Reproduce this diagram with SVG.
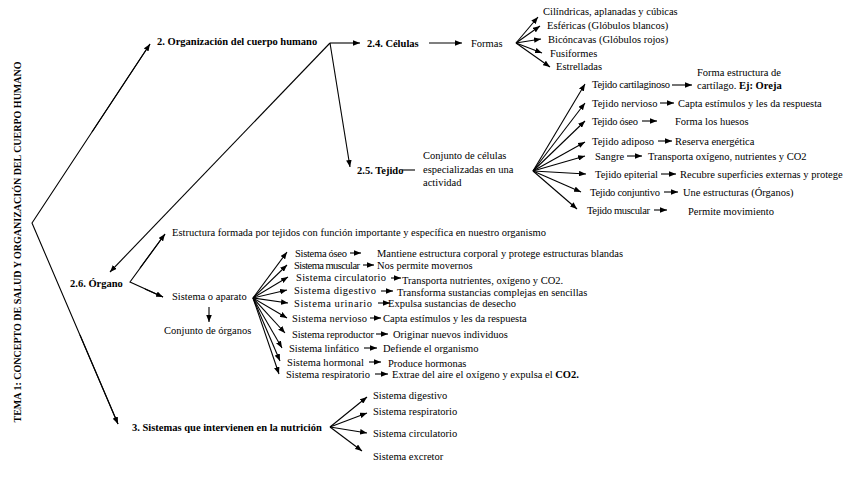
<svg xmlns="http://www.w3.org/2000/svg" width="848" height="477" viewBox="0 0 848 477">
<defs>
<marker id="ah" viewBox="0 0 10 8" refX="10" refY="4" markerWidth="7" markerHeight="5.6" markerUnits="userSpaceOnUse" orient="auto"><path d="M0,0 L10,4 L0,8 z" fill="#000"/></marker>
<style>
text{font-family:"Liberation Serif","Times New Roman",serif;fill:#000}
.t{font-size:10.5px}
.b{font-size:10.5px;font-weight:bold}
.title{font-size:10px;font-weight:bold}
.c{stroke:#000;stroke-width:1.1;fill:none}
.a{stroke:#000;stroke-width:1.1;fill:none;marker-end:url(#ah)}
</style>
</defs>
<rect width="848" height="477" fill="#fff"/>

<g id="connectors">
<polyline class="c" points="150,44 32,223 118,424"/>
<line class="a" x1="92" y1="132" x2="150" y2="44"/>
<line class="a" x1="80" y1="335" x2="118" y2="424"/>
<line class="a" x1="330" y1="43" x2="360" y2="43"/>
<line class="a" x1="330" y1="43" x2="110" y2="272"/>
<line class="a" x1="330" y1="43" x2="350" y2="167"/>
<line class="a" x1="429" y1="43" x2="462" y2="43"/>
<line class="a" x1="516" y1="43" x2="538" y2="17"/>
<line class="a" x1="516" y1="43" x2="540" y2="26"/>
<line class="a" x1="516" y1="43" x2="541" y2="39"/>
<line class="a" x1="516" y1="43" x2="542" y2="53"/>
<line class="a" x1="516" y1="43" x2="550" y2="67"/>
<line class="c" x1="402" y1="170" x2="415" y2="170"/>
<line class="a" x1="533" y1="171" x2="585" y2="84"/>
<line class="a" x1="533" y1="171" x2="585" y2="103"/>
<line class="a" x1="533" y1="171" x2="585" y2="121"/>
<line class="a" x1="533" y1="171" x2="585" y2="142"/>
<line class="a" x1="533" y1="171" x2="585" y2="156"/>
<line class="a" x1="533" y1="171" x2="586" y2="174"/>
<line class="a" x1="533" y1="171" x2="581" y2="192"/>
<line class="a" x1="533" y1="171" x2="577" y2="209"/>
<line class="a" x1="672" y1="85" x2="692" y2="85"/>
<line class="a" x1="660" y1="103" x2="674" y2="103"/>
<line class="a" x1="642" y1="121" x2="657" y2="121"/>
<line class="a" x1="658" y1="141" x2="672" y2="141"/>
<line class="a" x1="627" y1="156" x2="642" y2="156"/>
<line class="a" x1="661" y1="174" x2="676" y2="174"/>
<line class="a" x1="664" y1="192" x2="678" y2="192"/>
<line class="a" x1="654" y1="210" x2="667" y2="210"/>
<polyline class="c" points="165,234 130,282 163,297"/>
<line class="a" x1="140" y1="268" x2="165" y2="234"/>
<line class="a" x1="145" y1="289" x2="163" y2="297"/>
<line class="a" x1="209" y1="307" x2="209" y2="322"/>
<line class="a" x1="253" y1="298" x2="287" y2="252"/>
<line class="a" x1="253" y1="298" x2="287" y2="265"/>
<line class="a" x1="253" y1="298" x2="288" y2="277"/>
<line class="a" x1="253" y1="298" x2="287" y2="290"/>
<line class="a" x1="253" y1="298" x2="288" y2="303"/>
<line class="a" x1="253" y1="298" x2="287" y2="318"/>
<line class="a" x1="253" y1="298" x2="285" y2="333"/>
<line class="a" x1="253" y1="298" x2="282" y2="348"/>
<line class="a" x1="253" y1="298" x2="280" y2="361"/>
<line class="a" x1="253" y1="298" x2="279" y2="374"/>
<line class="a" x1="350" y1="253" x2="361" y2="253"/>
<line class="a" x1="363" y1="265" x2="374" y2="265"/>
<line class="a" x1="391" y1="278" x2="401" y2="278"/>
<line class="a" x1="381" y1="291" x2="393" y2="291"/>
<line class="a" x1="378" y1="303" x2="390" y2="303"/>
<line class="a" x1="370" y1="318" x2="381" y2="318"/>
<line class="a" x1="376" y1="334" x2="388" y2="334"/>
<line class="a" x1="364" y1="348" x2="377" y2="348"/>
<line class="a" x1="369" y1="362" x2="381" y2="362"/>
<line class="a" x1="375" y1="374" x2="388" y2="374"/>
<line class="a" x1="330" y1="427" x2="367" y2="397"/>
<line class="a" x1="330" y1="427" x2="367" y2="413"/>
<line class="a" x1="330" y1="427" x2="367" y2="433"/>
<line class="a" x1="330" y1="427" x2="362" y2="451"/>
</g>

<g id="title"><text class="title" transform="translate(21,242) rotate(-90)" text-anchor="middle">TEMA 1: CONCEPTO DE SALUD Y ORGANIZACIÓN DEL CUERPO HUMANO</text></g>

<g id="organizacion"><text class="b" x="157" y="45">2. Organización del cuerpo humano</text></g>
<g id="celulas"><text class="b" x="367" y="47">2.4. Células</text></g>
<g id="formas"><text class="t" x="471" y="47">Formas</text></g>
<g id="formas-lista">
<text class="t" x="543" y="15">Cilíndricas, aplanadas y cúbicas</text>
<text class="t" x="547" y="29">Esféricas (Glóbulos blancos)</text>
<text class="t" x="548" y="43">Bicóncavas (Glóbulos rojos)</text>
<text class="t" x="550" y="57">Fusiformes</text>
<text class="t" x="556" y="70">Estrelladas</text>
</g>

<g id="tejido"><text class="b" x="357" y="174">2.5. Tejido</text></g>
<g id="tejido-def">
<text class="t" x="423" y="159">Conjunto de células</text>
<text class="t" x="423" y="173">especializadas en una</text>
<text class="t" x="423" y="186">actividad</text>
</g>
<g id="tejidos">
<text class="t" x="592" y="88" textLength="78">Tejido cartilaginoso</text>
<text class="t" x="592" y="107">Tejido nervioso</text>
<text class="t" x="592" y="125" textLength="46">Tejido óseo</text>
<text class="t" x="592" y="145">Tejido adiposo</text>
<text class="t" x="595" y="160">Sangre</text>
<text class="t" x="595" y="178" textLength="63">Tejido epiterial</text>
<text class="t" x="590" y="196" textLength="70">Tejido conjuntivo</text>
<text class="t" x="587" y="214" textLength="63">Tejido muscular</text>
</g>
<g id="tejidos-funcion">
<text class="t" x="697" y="76">Forma estructura de</text>
<text class="t" x="697" y="89">cartílago. <tspan font-weight="bold">Ej: Oreja</tspan></text>
<text class="t" x="678" y="107">Capta estímulos y les da respuesta</text>
<text class="t" x="675" y="125">Forma los huesos</text>
<text class="t" x="675" y="145">Reserva energética</text>
<text class="t" x="648" y="160">Transporta oxígeno, nutrientes y CO2</text>
<text class="t" x="680" y="178">Recubre superficies externas y protege</text>
<text class="t" x="683" y="196">Une estructuras (Órganos)</text>
<text class="t" x="688" y="215">Permite movimiento</text>
</g>

<g id="organo"><text class="b" x="70" y="287">2.6. Órgano</text></g>
<g id="organo-def"><text class="t" x="172" y="236">Estructura formada por tejidos con función importante y específica en nuestro organismo</text></g>
<g id="sistema-aparato"><text class="t" x="172" y="300">Sistema o aparato</text></g>
<g id="conjunto-organos"><text class="t" x="164" y="334">Conjunto de órganos</text></g>
<g id="sistemas">
<text class="t" x="295" y="257" textLength="52">Sistema óseo</text>
<text class="t" x="294" y="268.5" font-size="10" textLength="66">Sistema muscular</text>
<text class="t" x="296" y="280.5" font-size="10" textLength="90">Sistema circulatorio</text>
<text class="t" x="294" y="294" textLength="82">Sistema digestivo</text>
<text class="t" x="294" y="307" textLength="78">Sistema urinario</text>
<text class="t" x="292" y="322" textLength="75">Sistema nervioso</text>
<text class="t" x="292" y="338" textLength="82">Sistema reproductor</text>
<text class="t" x="289" y="352" textLength="70">Sistema linfático</text>
<text class="t" x="287" y="366" textLength="77">Sistema hormonal</text>
<text class="t" x="286" y="378" textLength="84">Sistema respiratorio</text>
</g>
<g id="sistemas-funcion">
<text class="t" x="377" y="257">Mantiene estructura corporal y protege estructuras blandas</text>
<text class="t" x="377" y="269">Nos permite movernos</text>
<text class="t" x="402" y="284">Transporta nutrientes, oxígeno y CO2.</text>
<text class="t" x="397" y="296">Transforma sustancias complejas en sencillas</text>
<text class="t" x="388" y="307">Expulsa sustancias de desecho</text>
<text class="t" x="383" y="322">Capta estímulos y les da respuesta</text>
<text class="t" x="393" y="338">Originar nuevos individuos</text>
<text class="t" x="383" y="352">Defiende el organismo</text>
<text class="t" x="388" y="367">Produce hormonas</text>
<text class="t" x="392" y="378">Extrae del aire el oxígeno y expulsa el <tspan font-weight="bold">CO2.</tspan></text>
</g>

<g id="nutricion"><text class="b" x="132" y="431">3. Sistemas que intervienen en la nutrición</text></g>
<g id="nutricion-sistemas">
<text class="t" x="373" y="399">Sistema digestivo</text>
<text class="t" x="373" y="415">Sistema respiratorio</text>
<text class="t" x="373" y="437">Sistema circulatorio</text>
<text class="t" x="373" y="460">Sistema excretor</text>
</g>
</svg>
